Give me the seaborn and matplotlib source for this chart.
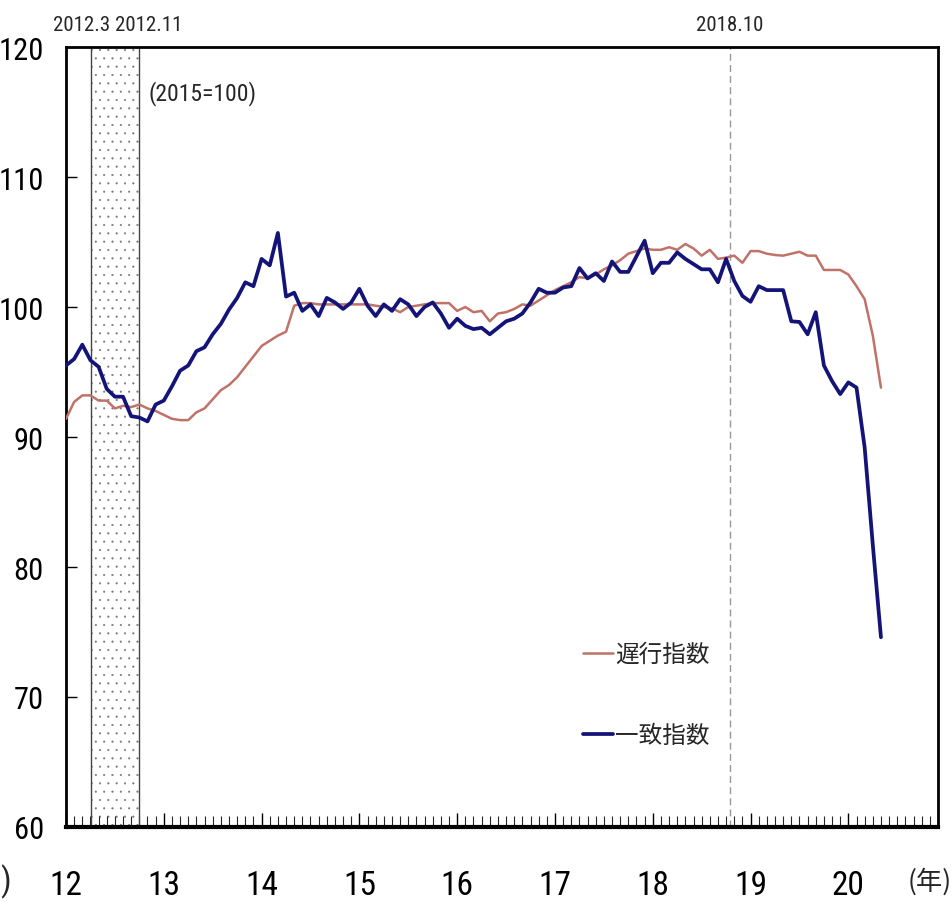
import numpy as np
import pandas as pd
import matplotlib
matplotlib.use("Agg")
import matplotlib.pyplot as plt
import seaborn as sns
from matplotlib import font_manager as fm
from matplotlib import transforms

# ---------------- data (monthly, Jan 2012 .. May 2020, 2015=100) ----------------
year_labels = ["12", "13", "14", "15", "16", "17", "18", "19", "20"]
series_names = ["遅行指数", "一致指数"]
lagging = [
    91.4, 92.7, 93.2, 93.2, 92.8, 92.8, 92.2, 92.4, 92.3, 92.5, 92.2, 92.0,
    91.7, 91.4, 91.3, 91.3, 91.9, 92.2, 92.9, 93.6, 94.0, 94.6, 95.4, 96.2,
    97.0, 97.4, 97.8, 98.1, 100.1, 100.3, 100.3, 100.2, 100.2, 100.2, 100.2, 100.2,
    100.2, 100.2, 100.1, 100.0, 99.9, 99.6, 100.0, 100.1, 100.2, 100.3, 100.3, 100.3,
    99.7, 100.0, 99.6, 99.7, 98.9, 99.5, 99.6, 99.85, 100.2, 100.1, 100.5, 100.9,
    101.3, 101.6, 101.9, 102.3, 102.2, 102.5, 102.9, 103.2, 103.6, 104.1, 104.3, 104.5,
    104.4, 104.4, 104.6, 104.4, 104.85, 104.5, 103.95, 104.4, 103.7, 103.8, 103.95, 103.4,
    104.3, 104.3, 104.1, 104.0, 103.95, 104.1, 104.25, 103.95, 103.95, 102.85, 102.85, 102.85,
    102.5, 101.6, 100.6, 97.8, 93.8,
]
coincident = [
    95.5, 96.0, 97.1, 95.9, 95.4, 93.7, 93.1, 93.1, 91.6, 91.5, 91.2, 92.5,
    92.8, 93.9, 95.1, 95.5, 96.6, 96.9, 97.9, 98.7, 99.8, 100.7, 101.9, 101.6,
    103.7, 103.2, 105.7, 100.8, 101.1, 99.7, 100.2, 99.3, 100.7, 100.35, 99.85, 100.35,
    101.4, 100.1, 99.3, 100.2, 99.7, 100.6, 100.2, 99.3, 100.0, 100.35, 99.5, 98.4,
    99.1, 98.55, 98.3, 98.4, 97.9, 98.4, 98.9, 99.1, 99.5, 100.35, 101.4, 101.1,
    101.1, 101.5, 101.6, 103.0, 102.2, 102.6, 102.0, 103.5, 102.7, 102.7, 103.9, 105.1,
    102.6, 103.4, 103.4, 104.2, 103.7, 103.3, 102.9, 102.9, 101.9, 103.7, 102.0, 100.85,
    100.4, 101.6, 101.3, 101.3, 101.3, 98.9, 98.85, 97.9, 99.6, 95.5, 94.3, 93.3,
    94.2, 93.8, 89.2, 81.7, 74.6,
]
recession_labels = ["2012.3", "2012.11"]
peak_label = "2018.10"
base_label = "(2015=100)"
unit_label = "(年)"

months = np.arange(len(coincident))
df = pd.DataFrame({
    "month": np.concatenate([months, months]),
    "value": lagging + coincident,
    "series": [series_names[0]] * len(lagging) + [series_names[1]] * len(coincident),
})

# ---------------- style ----------------
sns.set_theme(style="white")
plt.rcParams["font.family"] = ["Liberation Sans", "Noto Sans CJK JP", "DejaVu Sans"]
plt.rcParams["hatch.linewidth"] = 0.3
cjk = ["Noto Sans CJK JP", "DejaVu Sans"]


def find_condensed():
    pref = ["Liberation Sans Narrow", "Roboto Condensed", "Noto Sans", "Noto Sans Condensed",
            "Open Sans", "Open Sans Condensed", "DejaVu Sans", "DejaVu Sans Condensed", "Roboto",
            "Inter", "Lato"]
    found = {}
    for e in fm.fontManager.ttflist:
        st = str(e.stretch).lower()
        nm = e.name
        narrow_name = ("Narrow" in nm) or ("Condensed" in nm)
        condensed = narrow_name or (st in ("condensed", "semi-condensed", "extra-condensed"))
        if not condensed:
            continue
        if str(e.style).lower() != "normal":
            continue
        if str(e.weight).lower() not in ("400", "normal", "regular", "book"):
            continue
        if "extra" in st or "Extra" in e.fname or "Semi" in e.fname:
            continue
        found.setdefault(nm, e.fname)
    for p in pref:
        if p in found:
            return found[p]
    if found:
        return sorted(found.items())[0][1]
    return None


cond_file = find_condensed()
if cond_file:
    def numfont(size):
        return fm.FontProperties(fname=cond_file, size=size)
    ysize, xsize, topsize, basesize = 22, 24, 15, 17
else:
    def numfont(size):
        return fm.FontProperties(family="Liberation Sans", size=size)
    ysize, xsize, topsize, basesize = 17, 20, 12, 15

W, H = 952, 903
fig = plt.figure(figsize=(W / 100, H / 100), dpi=100)
L, R, T, B = 66, 938, 48, 828
ax = fig.add_axes([L / W, 1 - B / H, (R - L) / W, (B - T) / H])

# recession shading
shade_lo, shade_hi = 3.05, 8.95
ax.axvspan(shade_lo, shade_hi, facecolor="white", edgecolor="#777777", hatch="..", lw=0, zorder=0)
for xv in (shade_lo, shade_hi):
    ax.axvline(xv, color="#444444", lw=1.0, zorder=1)
# peak dashed line
peak_x = 81.5
ax.axvline(peak_x, color="#999999", lw=1.0, ls=(0, (5, 3)), zorder=1)

palette = {series_names[0]: "#c07268", series_names[1]: "#141478"}
widths = {series_names[0]: 1.8, series_names[1]: 2.7}
for name in series_names:
    sub = df[df["series"] == name]
    sns.lineplot(data=sub, x="month", y="value", ax=ax, color=palette[name],
                 lw=widths[name], label=name, zorder=3)

ax.set_xlim(0, 107)
ax.set_ylim(60, 120)
ax.set_xlabel("")
ax.set_ylabel("")

ax.set_xticks(np.arange(0, 12 * len(year_labels), 12))
ax.set_xticklabels(year_labels)
ax.set_xticks(np.arange(0, 107), minor=True)
ax.set_yticks(np.arange(60, 121, 10))
ax.tick_params(axis="x", which="major", direction="in", length=10, width=1.0,
               bottom=True, top=False, pad=30, colors="black")
ax.tick_params(axis="x", which="minor", direction="in", length=8, width=0.8,
               bottom=True, top=False)
ax.tick_params(axis="y", which="major", direction="in", length=8, width=1.0,
               left=True, right=False, pad=16, colors="black")
for lbl in ax.get_yticklabels():
    lbl.set_fontproperties(numfont(ysize))
for lbl in ax.get_xticklabels():
    lbl.set_fontproperties(numfont(xsize))

for side, lw in (("left", 2.0), ("right", 2.0), ("top", 2.0), ("bottom", 3.0)):
    ax.spines[side].set_visible(True)
    ax.spines[side].set_color("black")
    ax.spines[side].set_linewidth(lw)

# top labels
trans = transforms.blended_transform_factory(ax.transData, ax.transAxes)
ax.text(1.9, 1.029, recession_labels[0], transform=trans, ha="center", va="center",
        fontproperties=numfont(topsize))
ax.text(10.2, 1.029, recession_labels[1], transform=trans, ha="center", va="center",
        fontproperties=numfont(topsize))
ax.text(peak_x, 1.029, peak_label, transform=trans, ha="center", va="center",
        fontproperties=numfont(topsize))
ax.text(10.1, 0.942, base_label, transform=trans, ha="left", va="center",
        fontproperties=numfont(basesize))

fig.text(930 / W, 1 - 882 / H, unit_label, ha="center", va="center", fontsize=19, family=cjk)
fig.text(0 / W, 1 - 882 / H, ")", ha="left", va="center", fontproperties=numfont(xsize))

leg = ax.legend(loc="upper left", bbox_to_anchor=((583 - L) / (R - L), (B - 644) / (B - T)),
                frameon=False, handlelength=1.25, handletextpad=0.1, labelspacing=2.45,
                prop={"family": cjk, "size": 17}, borderaxespad=0, borderpad=0)

fig.savefig("out.png", dpi=100, facecolor="white")
